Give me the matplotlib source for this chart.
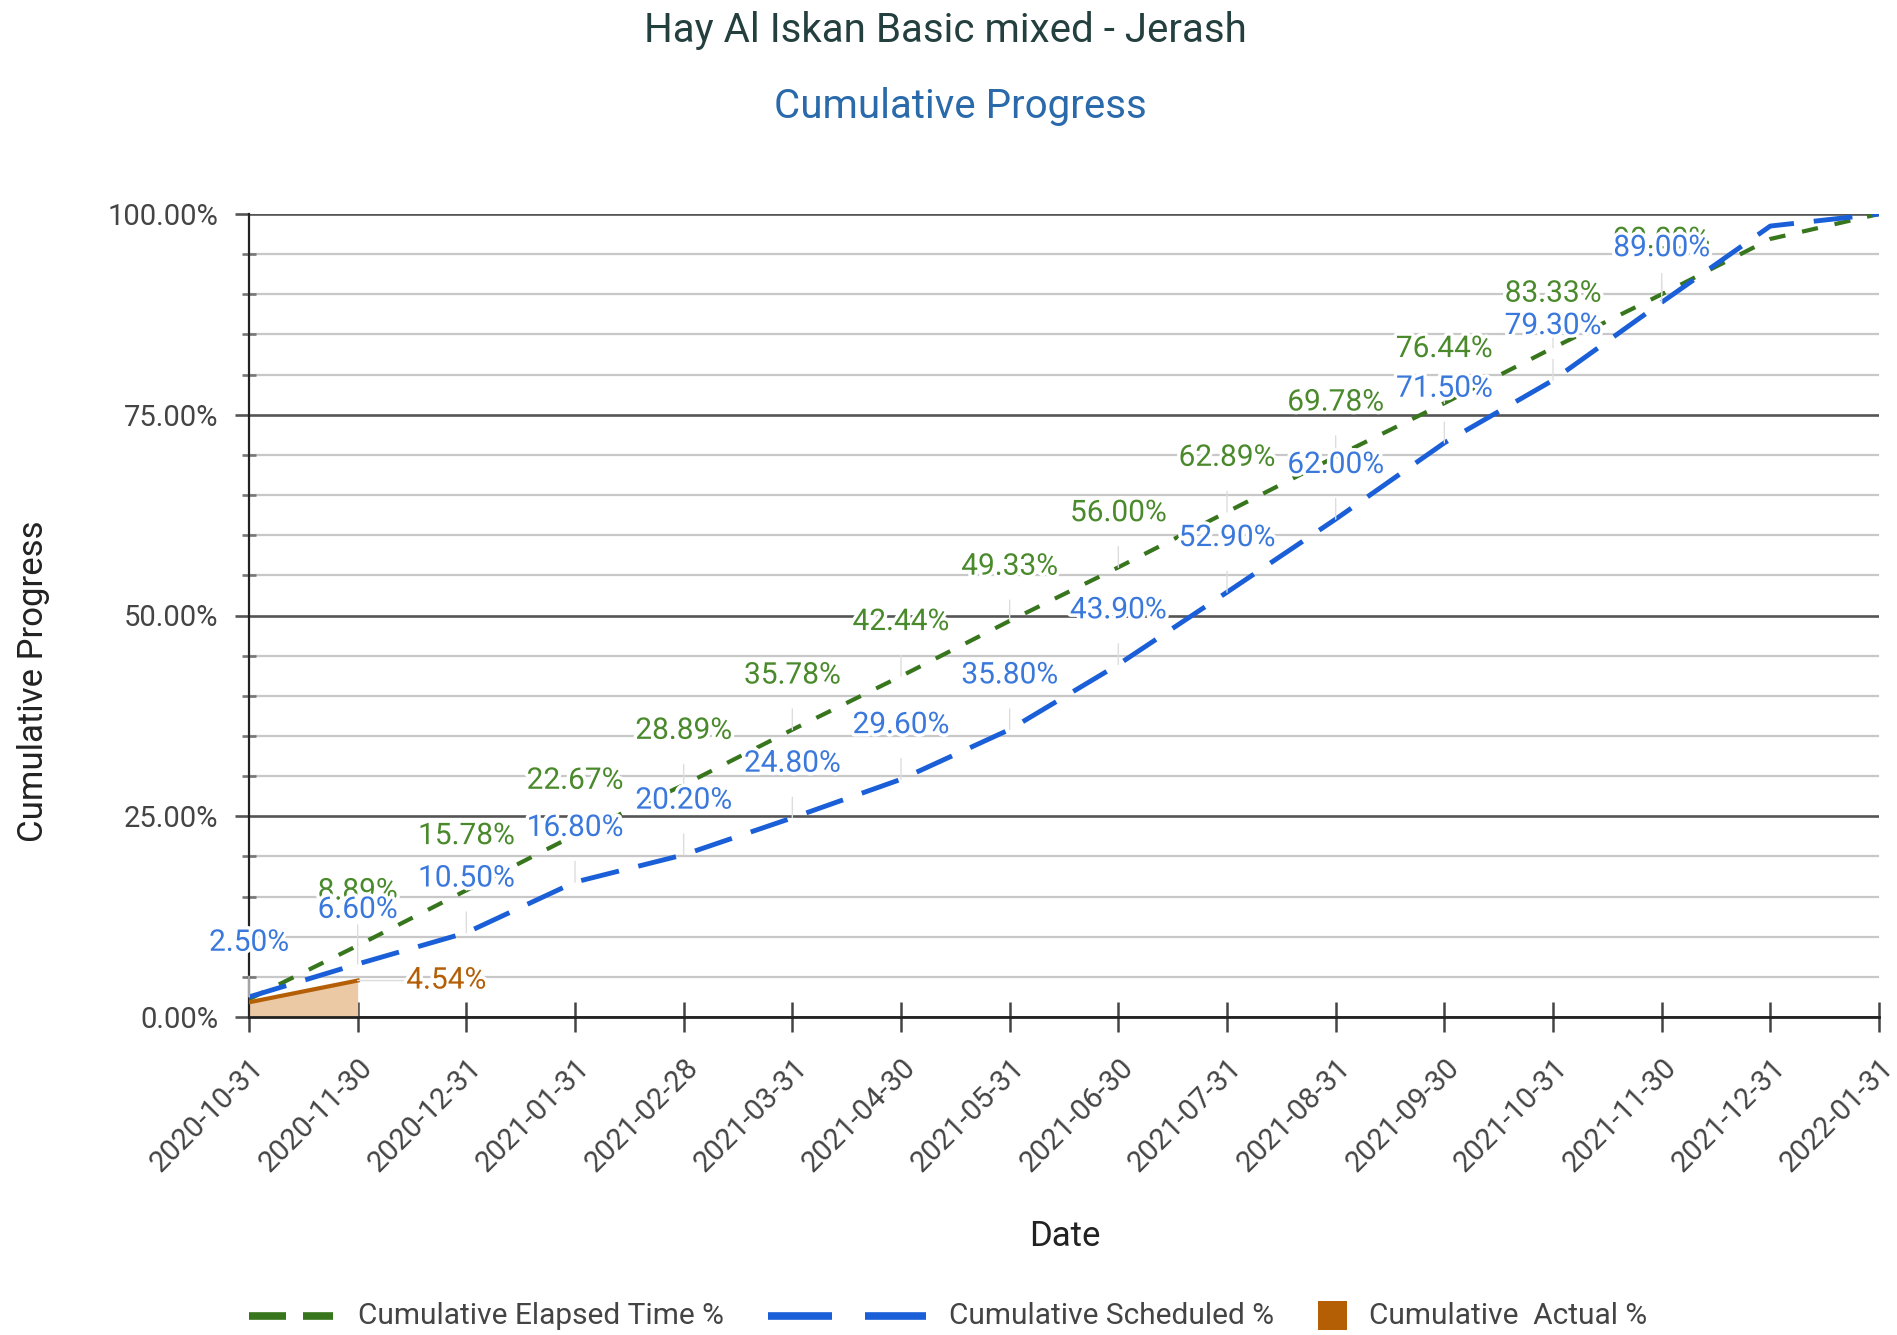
import matplotlib
matplotlib.use("Agg")
import matplotlib.pyplot as plt
import matplotlib.patheffects as pe
from matplotlib.lines import Line2D
from matplotlib.patches import Rectangle
from matplotlib.transforms import ScaledTranslation
import numpy as np

plt.rcParams['font.family'] = ['Roboto', 'DejaVu Sans']

# ---------------- data ----------------
dates = ["2020-10-31", "2020-11-30", "2020-12-31", "2021-01-31", "2021-02-28",
         "2021-03-31", "2021-04-30", "2021-05-31", "2021-06-30", "2021-07-31",
         "2021-08-31", "2021-09-30", "2021-10-31", "2021-11-30", "2021-12-31",
         "2022-01-31"]
elapsed = [2.22, 8.89, 15.78, 22.67, 28.89, 35.78, 42.44, 49.33, 56.00, 62.89,
           69.78, 76.44, 83.33, 90.00, 96.89, 100.00]
scheduled = [2.50, 6.60, 10.50, 16.80, 20.20, 24.80, 29.60, 35.80, 43.90, 52.90,
             62.00, 71.50, 79.30, 89.00, 98.50, 100.00]
actual = [1.83, 4.54]
yticks = [0, 25, 50, 75, 100]
ytick_labels = ["0.00%", "25.00%", "50.00%", "75.00%", "100.00%"]
elapsed_labeled = list(range(1, 14))
scheduled_labeled = list(range(0, 14))

# ---------------- style ----------------
W, H = 1897, 1335
GREEN = "#38761d"
GREEN_TXT = "#4a8a2c"
BLUE = "#1a5fd8"
BLUE_TXT = "#3b78dc"
ORANGE = "#b45f06"
ORANGE_FILL = "#ebc9a5"
TXT = "#444444"

fig = plt.figure(figsize=(W / 100, H / 100), dpi=100)
ax = fig.add_axes([249 / W, 1 - 1017 / H, (1879 - 249) / W, (1017 - 214) / H])

x = np.arange(len(dates))
xa = x[:len(actual)]

# grid
ax.set_ylim(0, 100)
ax.set_xlim(x[0], x[-1])
ax.set_yticks(yticks)
ax.set_yticklabels(ytick_labels)
ax.set_yticks(np.arange(5, 100, 5), minor=True)
ax.yaxis.grid(True, which='minor', color='#c8c8c8', lw=1.6, zorder=0)
ax.yaxis.grid(True, which='major', color='#555555', lw=1.9, zorder=0)
ax.set_axisbelow(True)

ax.fill_between(xa, 0, actual, color=ORANGE_FILL, lw=0, zorder=1)

halo = [pe.withStroke(linewidth=5, foreground='white')]

ax.plot(x, elapsed, color=GREEN, lw=3.0, dashes=(3.9, 4.1), zorder=3,
        dash_capstyle='butt')
ax.plot(x, scheduled, color=BLUE, lw=3.5, dashes=(8, 4.1), zorder=4,
        dash_capstyle='butt')
ax.plot(xa, actual, color=ORANGE, lw=3.0, zorder=5)

# annotations (stems + labels)
for i in elapsed_labeled:
    ax.annotate(f"{elapsed[i]:.2f}%", xy=(x[i], elapsed[i]), xytext=(0, 39),
                textcoords='offset points', ha='center', va='center',
                fontsize=21.5, color=GREEN_TXT, zorder=6, path_effects=halo,
                arrowprops=dict(arrowstyle='-', color='#dddddd', lw=1,
                                shrinkA=12, shrinkB=0))
for i in scheduled_labeled:
    ax.annotate(f"{scheduled[i]:.2f}%", xy=(x[i], scheduled[i]), xytext=(0, 39),
                textcoords='offset points', ha='center', va='center',
                fontsize=21.5, color=BLUE_TXT, zorder=7, path_effects=halo,
                arrowprops=dict(arrowstyle='-', color='#dddddd', lw=1,
                                shrinkA=12, shrinkB=0))
ax.annotate(f"{actual[-1]:.2f}%", xy=(xa[-1], actual[-1]), xytext=(35, 0),
            textcoords='offset points', ha='left', va='center',
            fontsize=21.5, color=ORANGE, zorder=7, path_effects=halo,
            arrowprops=dict(arrowstyle='-', color='#dddddd', lw=1,
                            shrinkA=0, shrinkB=0))

# axes styling
for s in ['top', 'right']:
    ax.spines[s].set_visible(False)
ax.spines['left'].set_color('#222222')
ax.spines['left'].set_linewidth(1.6)
ax.spines['bottom'].set_color('#222222')
ax.spines['bottom'].set_linewidth(2.0)
ax.spines['left'].set_zorder(2)
ax.spines['bottom'].set_zorder(2)

ax.tick_params(axis='y', which='major', direction='out', length=10, width=1.9,
               color='#555555', pad=12, labelsize=21, labelcolor=TXT)
ax.tick_params(axis='y', which='minor', direction='inout', length=10, width=1.9,
               color='#777777')
ax.set_xticks(x)
ax.set_xticklabels(dates, rotation=45, ha='right', va='baseline',
                   rotation_mode='anchor')
ax.tick_params(axis='x', direction='inout', length=21, width=1.8,
               color='#444444', pad=27, labelsize=21, labelcolor=TXT)
offset = ScaledTranslation(0.16, 0, fig.dpi_scale_trans)
for lbl in ax.get_xticklabels():
    lbl.set_transform(lbl.get_transform() + offset)

# titles
fig.text(945 / W, 1 - 30 / H, "Hay Al Iskan Basic mixed - Jerash", ha='center',
         va='center', fontsize=29, color='#23403f')
fig.text(960 / W, 1 - 106 / H, "Cumulative Progress", ha='center', va='center',
         fontsize=29, color='#2a6aaa')
fig.text(34 / W, 1 - 681 / H, "Cumulative Progress", rotation=90, ha='center',
         va='center', fontsize=25, color='#222222')
fig.text(1065 / W, 1 - 1237 / H, "Date", ha='center', va='center', fontsize=25,
         color='#222222')

# legend (manual)
ly = 1 - 1316 / H
def fx(px):
    return px / W
for (a, b) in [(249, 286), (303, 333)]:
    fig.add_artist(Line2D([fx(a), fx(b)], [ly, ly], color=GREEN, lw=5.5,
                          solid_capstyle='butt', transform=fig.transFigure))
fig.text(fx(358), ly, "Cumulative Elapsed Time %", ha='left', va='center',
         fontsize=21.5, color=TXT)
for (a, b) in [(768, 832), (865, 926)]:
    fig.add_artist(Line2D([fx(a), fx(b)], [ly, ly], color=BLUE, lw=5.5,
                          solid_capstyle='butt', transform=fig.transFigure))
fig.text(fx(949), ly, "Cumulative Scheduled %", ha='left', va='center',
         fontsize=21.5, color=TXT)
fig.add_artist(Rectangle((fx(1318), ly - 14 / H), 29 / W, 29 / H,
                         facecolor=ORANGE, edgecolor='none',
                         transform=fig.transFigure))
fig.text(fx(1369), ly, "Cumulative  Actual %", ha='left', va='center',
         fontsize=21.5, color=TXT)

fig.savefig("out.png", dpi=100)
